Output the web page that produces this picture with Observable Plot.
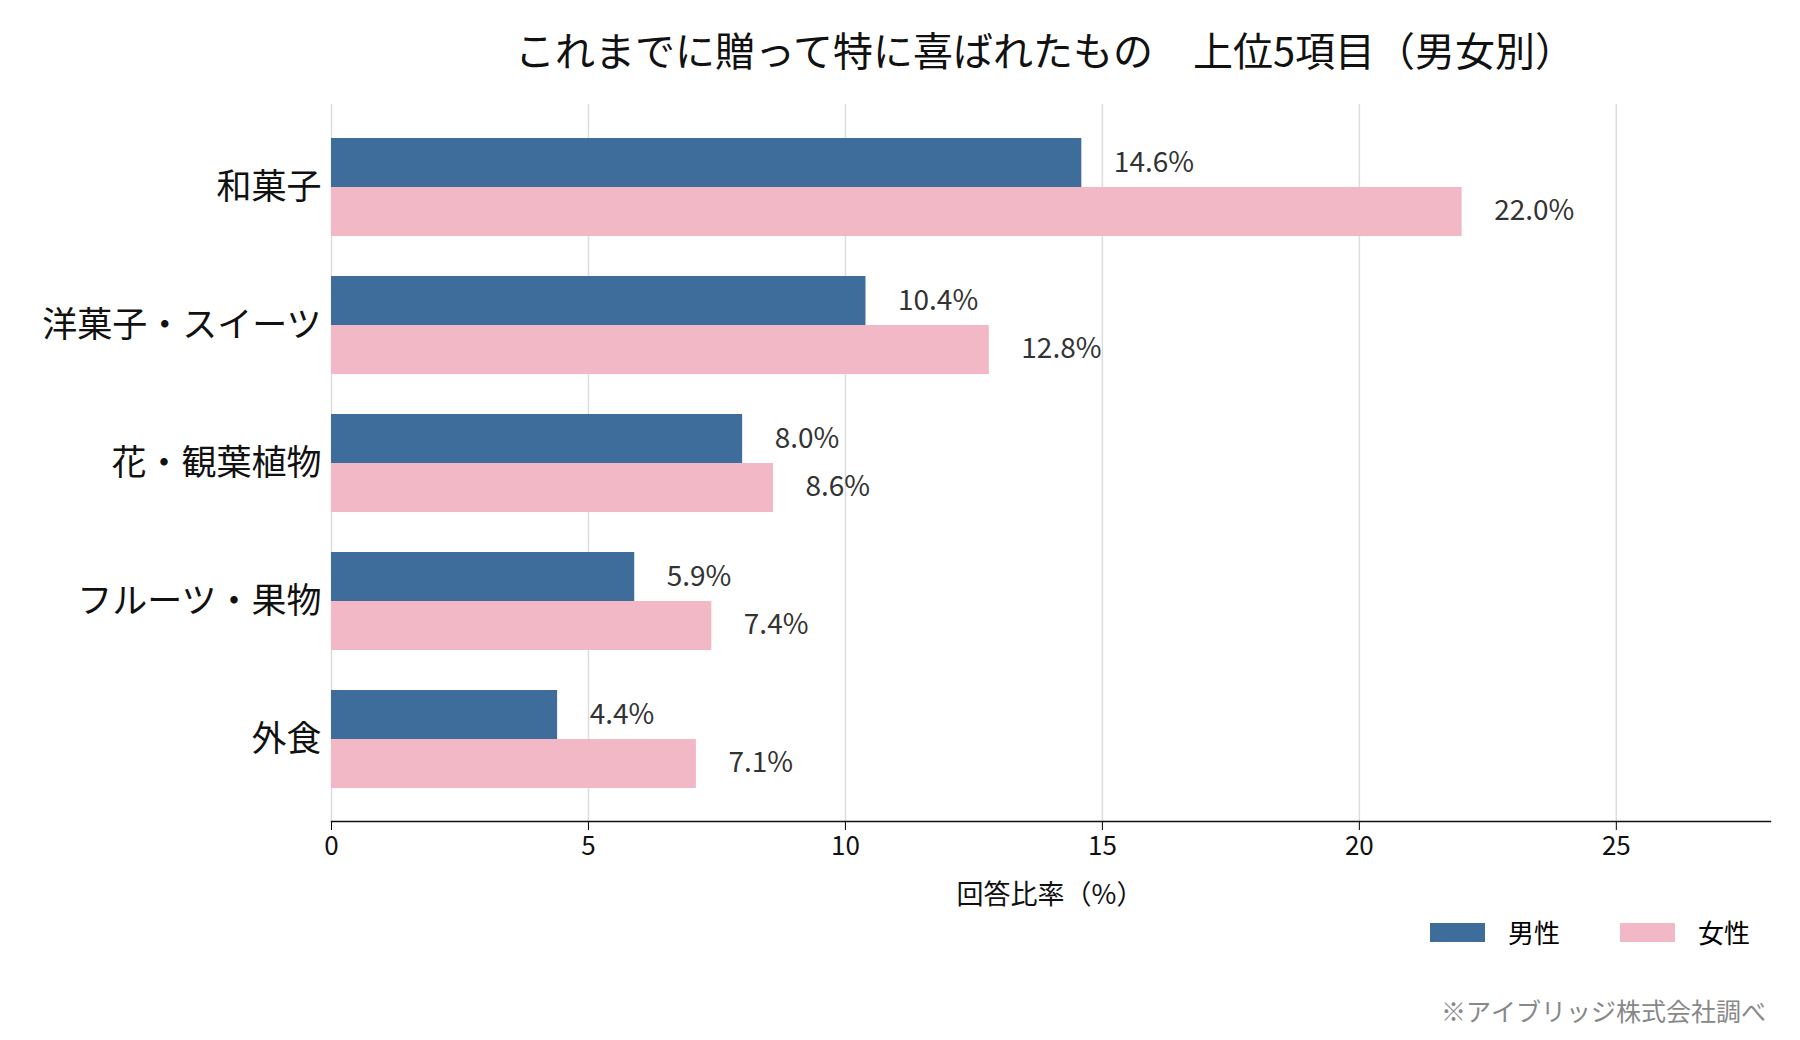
<!DOCTYPE html>
<html><head><meta charset="utf-8">
<script src="https://cdn.jsdelivr.net/npm/d3@7"></script>
<script src="https://cdn.jsdelivr.net/npm/@observablehq/plot@0.6"></script>
<style>
body{margin:0;background:#fff;font-family:"Noto Sans CJK JP","Noto Sans",sans-serif;}
#wrap{position:relative;width:1800px;height:1040px;}
.abs{position:absolute;white-space:nowrap;}
</style></head><body>
<div id="wrap">
<div class="abs" style="left:0;width:2090px;top:20px;text-align:center;font-size:40px;color:#111;">これまでに贈って特に喜ばれたもの　上位5項目（男女別）</div>
<div id="chart" class="abs" style="left:0;top:0;"></div>
<div class="abs" style="left:0;width:2100px;top:873px;text-align:center;font-size:27px;color:#111;">回答比率（%）</div>
<div class="abs" style="left:1430px;top:923px;width:55px;height:19px;background:#3e6d9c"></div>
<div class="abs" style="left:1508px;top:913px;font-size:26px;">男性</div>
<div class="abs" style="left:1620px;top:923px;width:55px;height:19px;background:#f2b8c6"></div>
<div class="abs" style="left:1698px;top:913px;font-size:26px;">女性</div>
<div class="abs" style="right:34px;top:992px;font-size:25px;color:#888;">※アイブリッジ株式会社調べ</div>
</div>
<script>
const categories = ["和菓子","洋菓子・スイーツ","花・観葉植物","フルーツ・果物","外食"];
const male = [14.6,10.4,8.0,5.9,4.4];
const female = [22.0,12.8,8.6,7.4,7.1];
const xTicks = [0,5,10,15,20,25];
const mData = categories.map((c,i)=>({c,v:male[i]}));
const fData = categories.map((c,i)=>({c,v:female[i]}));
const half = 49;
const chart = Plot.plot({
  width:1800,height:900,marginTop:104,marginBottom:79,marginLeft:331,marginRight:30,
  style:{fontFamily:"'Noto Sans CJK JP','Noto Sans',sans-serif",background:"transparent",overflow:"visible"},
  x:{domain:[0,28],ticks:xTicks,label:null},
  y:{domain:categories,paddingInner:0.29,paddingOuter:0.23,label:null},
  marks:[
    Plot.gridX(xTicks,{stroke:"#ddd",strokeOpacity:1,strokeWidth:1.5}),
    Plot.barX(mData,{x:"v",y:"c",fill:"#3e6d9c",insetBottom:half}),
    Plot.barX(fData,{x:"v",y:"c",fill:"#f2b8c6",insetTop:half}),
    Plot.text(mData,{x:"v",y:"c",dy:-24,dx:32,text:d=>d.v.toFixed(1)+"%",textAnchor:"start",fontSize:28,fill:"#333"}),
    Plot.text(fData,{x:"v",y:"c",dy:24,dx:32,text:d=>d.v.toFixed(1)+"%",textAnchor:"start",fontSize:28,fill:"#333"}),
    Plot.axisY({tickSize:0,tickPadding:10,fontSize:35,fill:"#111",label:null}),
    Plot.axisX(xTicks,{tickSize:9,tickPadding:6,fontSize:26,fill:"#111",label:null}),
    Plot.frame({anchor:"bottom",stroke:"#111",strokeWidth:1.5})
  ]
});
document.getElementById("chart").appendChild(chart);
</script>
</body></html>
